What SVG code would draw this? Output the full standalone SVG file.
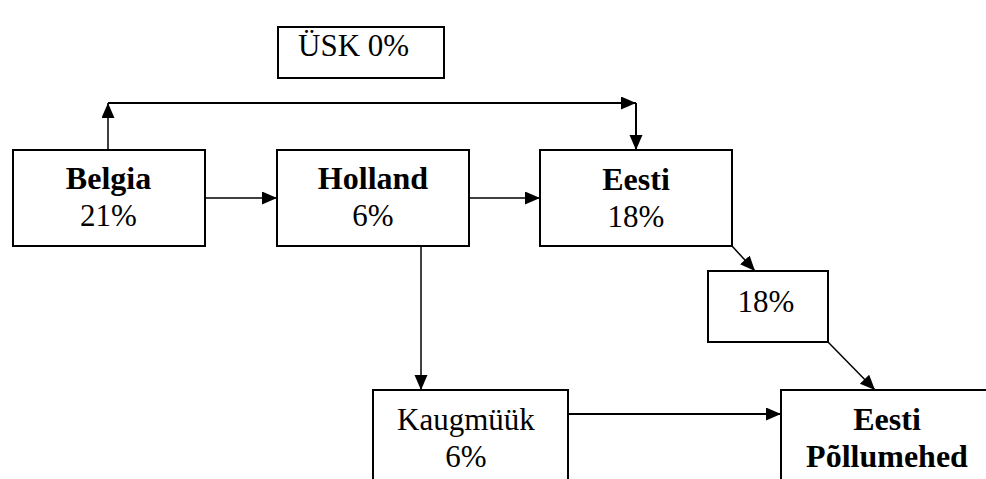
<svg xmlns="http://www.w3.org/2000/svg" width="986" height="479" viewBox="0 0 986 479">
<style>
  .box { fill: #fff; stroke: #000; stroke-width: 2; }
  text { font-family: 'Liberation Serif', 'Times New Roman', Times, serif; font-size: 31px; fill: #000; text-anchor: middle; }
  .b { font-weight: bold; font-size: 32px; }
  .c { fill: none; stroke: #000; stroke-width: 1.5; }
  .c2 { fill: none; stroke: #000; stroke-width: 2; }
</style>
<defs>
  <marker id="ah" markerUnits="userSpaceOnUse" markerWidth="16" markerHeight="14" refX="15" refY="6.5" orient="auto">
    <path d="M0,0 L15,6.5 L0,13 Z" fill="#000"/>
  </marker>
</defs>
<rect width="986" height="479" fill="#fff"/>
<g id="connectors">
  <path class="c" d="M108,150 L108,103" marker-end="url(#ah)"/>
  <path class="c2" d="M108,103 L636,103" marker-end="url(#ah)"/>
  <path class="c2" d="M636,103 L636,150" marker-end="url(#ah)"/>
  <path class="c" d="M205,198 L277,198" marker-end="url(#ah)"/>
  <path class="c" d="M469,198 L540,198" marker-end="url(#ah)"/>
  <path class="c" d="M421,246 L421,390" marker-end="url(#ah)"/>
  <path class="c" d="M732,246 L755,271" marker-end="url(#ah)"/>
  <path class="c" d="M828,342 L875,390" marker-end="url(#ah)"/>
  <path class="c2" d="M568,414 L781,414" marker-end="url(#ah)"/>
</g>
<g id="usk">
  <rect class="box" x="278" y="27" width="166" height="51"/>
  <text x="298" y="56" style="text-anchor:start">ÜSK 0%</text>
</g>
<g id="belgia">
  <rect class="box" x="13" y="150" width="192" height="96"/>
  <text class="b" x="108.5" y="189">Belgia</text>
  <text x="108.5" y="226">21%</text>
</g>
<g id="holland">
  <rect class="box" x="277" y="150" width="192" height="96"/>
  <text class="b" x="373" y="189">Holland</text>
  <text x="373" y="226">6%</text>
</g>
<g id="eesti">
  <rect class="box" x="540" y="150" width="192" height="96"/>
  <text class="b" x="636" y="190">Eesti</text>
  <text x="636" y="226.5">18%</text>
</g>
<g id="p18">
  <rect class="box" x="708" y="271" width="120" height="71"/>
  <text x="766" y="312">18%</text>
</g>
<g id="kaugmuuk">
  <rect class="box" x="373" y="390" width="195" height="120"/>
  <text x="466" y="430">Kaugmüük</text>
  <text x="466" y="467">6%</text>
</g>
<g id="pollumehed">
  <rect class="box" x="781" y="390" width="212" height="120"/>
  <text class="b" x="887" y="430">Eesti</text>
  <text class="b" x="887" y="467">Põllumehed</text>
</g>
</svg>
